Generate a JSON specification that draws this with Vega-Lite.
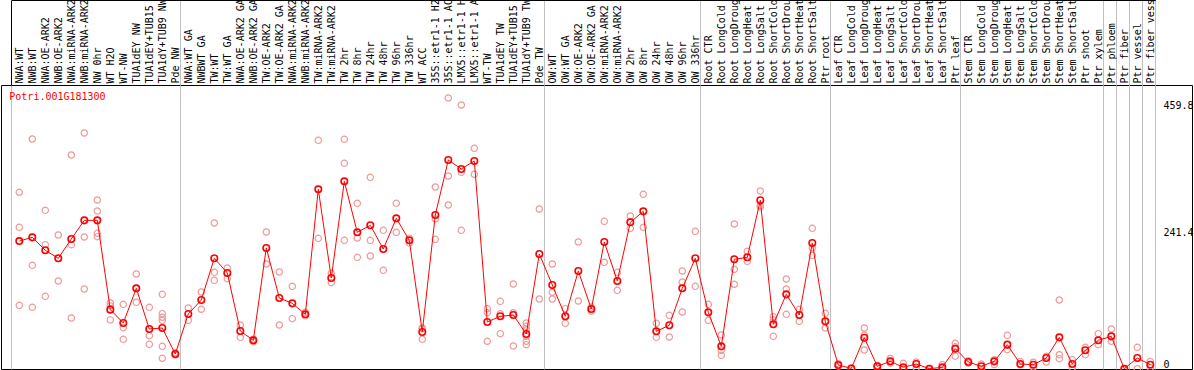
{
  "$schema": "https://vega.github.io/schema/vega-lite/v6.json",
  "width": 1191,
  "height": 284,
  "autosize": {"type": "none"},
  "padding": {"left": 1, "top": 85, "right": 2, "bottom": 1},
  "background": "white",
  "config": {"view": {"stroke": "black", "strokeWidth": 1}, "font": "DejaVu Sans Mono"},
  "datasets": {
    "means": [
      {"sample": "NWA:WT", "value": 219},
      {"sample": "NWB:WT", "value": 225.4},
      {"sample": "NWA:OE-ARK2", "value": 203.2},
      {"sample": "NWB:OE-ARK2", "value": 189.5},
      {"sample": "NWA:miRNA-ARK2", "value": 222.6},
      {"sample": "NWB:miRNA-ARK2", "value": 254.5},
      {"sample": "NW 0hr", "value": 254.5},
      {"sample": "WT H2O", "value": 101.6},
      {"sample": "WT-NW", "value": 78.8},
      {"sample": "TUA1dEY NW", "value": 138.1},
      {"sample": "TUA1dEY+TUB15 NW", "value": 68.5},
      {"sample": "TUA1dY+TUB9 NW", "value": 70.2},
      {"sample": "Pde NW", "value": 25.7},
      {"sample": "NWA:WT GA", "value": 94.2},
      {"sample": "NWBWT GA", "value": 118.1},
      {"sample": "TW:WT", "value": 189.5},
      {"sample": "TW:WT GA", "value": 164.4},
      {"sample": "NWA:OE-ARK2 GA", "value": 65.1},
      {"sample": "NWB:OE-ARK2 GA", "value": 49.1},
      {"sample": "TW:OE-ARK2", "value": 207.2},
      {"sample": "TW:OE-ARK2 GA", "value": 121.6},
      {"sample": "NWA:miRNA-ARK2 GA", "value": 112.4},
      {"sample": "NWB:miRNA-ARK2 GA", "value": 93.6},
      {"sample": "TW:miRNA-ARK2", "value": 307.6},
      {"sample": "TW:miRNA-ARK2 GA", "value": 155.8},
      {"sample": "TW 2hr", "value": 321.3},
      {"sample": "TW 8hr", "value": 234},
      {"sample": "TW 24hr", "value": 246},
      {"sample": "TW 48hr", "value": 205.4},
      {"sample": "TW 96hr", "value": 257.9},
      {"sample": "TW 336hr", "value": 220.3},
      {"sample": "WT ACC", "value": 63.3},
      {"sample": "35S::etr1-1 H2O", "value": 263.7},
      {"sample": "35S::etr1-1 ACC", "value": 357.8},
      {"sample": "LMX5::etr1-1 H2O", "value": 342.4},
      {"sample": "LMX5::etr1-1 ACC", "value": 356.1},
      {"sample": "WT-TW", "value": 80.5},
      {"sample": "TUA1dEY TW", "value": 90.2},
      {"sample": "TUA1dEY+TUB15 TW", "value": 92.4},
      {"sample": "TUA1dY+TUB9 TW", "value": 59.9},
      {"sample": "Pde TW", "value": 196.9},
      {"sample": "OW:WT", "value": 143.8},
      {"sample": "OW:WT GA", "value": 90.2},
      {"sample": "OW:OE-ARK2", "value": 167.8},
      {"sample": "OW:OE-ARK2 GA", "value": 102.7},
      {"sample": "OW:miRNA-ARK2", "value": 217.4},
      {"sample": "OW:miRNA-ARK2 GA", "value": 150.7},
      {"sample": "OW 2hr", "value": 251.1},
      {"sample": "OW 8hr", "value": 269.9},
      {"sample": "OW 24hr", "value": 64.5},
      {"sample": "OW 48hr", "value": 74.8},
      {"sample": "OW 96hr", "value": 138.1},
      {"sample": "OW 336hr", "value": 189.5},
      {"sample": "Root CTR", "value": 97},
      {"sample": "Root LongCold", "value": 38.8},
      {"sample": "Root LongDrought", "value": 187.8},
      {"sample": "Root LongHeat", "value": 191.2},
      {"sample": "Root LongSalt", "value": 288.8},
      {"sample": "Root ShortCold", "value": 76.5},
      {"sample": "Root ShortDrought", "value": 127.8},
      {"sample": "Root ShortHeat", "value": 92.4},
      {"sample": "Root ShortSalt", "value": 215.7},
      {"sample": "Ptr root", "value": 81.6},
      {"sample": "Leaf CTR", "value": 6.8},
      {"sample": "Leaf LongCold", "value": 1},
      {"sample": "Leaf LongDrought", "value": 53.6},
      {"sample": "Leaf LongHeat", "value": 4.6},
      {"sample": "Leaf LongSalt", "value": 13.1},
      {"sample": "Leaf ShortCold", "value": 2.9},
      {"sample": "Leaf ShortDrought", "value": 8.6},
      {"sample": "Leaf ShortHeat", "value": 0.5},
      {"sample": "Leaf ShortSalt", "value": 2.9},
      {"sample": "Ptr leaf", "value": 34.8},
      {"sample": "Stem CTR", "value": 12},
      {"sample": "Stem LongCold", "value": 4.6},
      {"sample": "Stem LongDrought", "value": 13.1},
      {"sample": "Stem LongHeat", "value": 41.7},
      {"sample": "Stem LongSalt", "value": 8.6},
      {"sample": "Stem ShortCold", "value": 7.4},
      {"sample": "Stem ShortDrought", "value": 18.8},
      {"sample": "Stem ShortHeat", "value": 54.2},
      {"sample": "Stem ShortSalt", "value": 8.6},
      {"sample": "Ptr shoot", "value": 32},
      {"sample": "Ptr xylem", "value": 49.1},
      {"sample": "Ptr phloem", "value": 55.9},
      {"sample": "Ptr fiber", "value": 0.3},
      {"sample": "Ptr vessel", "value": 18.8},
      {"sample": "Ptr fiber vessel", "value": 7.4}
    ],
    "reps": [
      {"sample": "NWA:WT", "value": 302.5}, {"sample": "NWA:WT", "value": 242.5}, {"sample": "NWA:WT", "value": 109},
      {"sample": "NWB:WT", "value": 393.8}, {"sample": "NWB:WT", "value": 177.5}, {"sample": "NWB:WT", "value": 105.6},
      {"sample": "NWA:OE-ARK2", "value": 271.6}, {"sample": "NWA:OE-ARK2", "value": 212.9}, {"sample": "NWA:OE-ARK2", "value": 124.4},
      {"sample": "NWB:OE-ARK2", "value": 229.4}, {"sample": "NWB:OE-ARK2", "value": 150.7}, {"sample": "NWB:OE-ARK2", "value": 189},
      {"sample": "NWA:miRNA-ARK2", "value": 366.4}, {"sample": "NWA:miRNA-ARK2", "value": 212.9}, {"sample": "NWA:miRNA-ARK2", "value": 87.3},
      {"sample": "NWB:miRNA-ARK2", "value": 404}, {"sample": "NWB:miRNA-ARK2", "value": 226}, {"sample": "NWB:miRNA-ARK2", "value": 137},
      {"sample": "NW 0hr", "value": 289.3}, {"sample": "NW 0hr", "value": 270.5}, {"sample": "NW 0hr", "value": 232.3}, {"sample": "NW 0hr", "value": 226.6},
      {"sample": "WT H2O", "value": 113}, {"sample": "WT H2O", "value": 108}, {"sample": "WT H2O", "value": 84},
      {"sample": "WT-NW", "value": 110.7}, {"sample": "WT-NW", "value": 70.8}, {"sample": "WT-NW", "value": 50.8},
      {"sample": "TUA1dEY NW", "value": 162.6}, {"sample": "TUA1dEY NW", "value": 114.1}, {"sample": "TUA1dEY NW", "value": 138},
      {"sample": "TUA1dEY+TUB15 NW", "value": 105.6}, {"sample": "TUA1dEY+TUB15 NW", "value": 57.1}, {"sample": "TUA1dEY+TUB15 NW", "value": 42.2},
      {"sample": "TUA1dY+TUB9 NW", "value": 127.8}, {"sample": "TUA1dY+TUB9 NW", "value": 94.7}, {"sample": "TUA1dY+TUB9 NW", "value": 88.5}, {"sample": "TUA1dY+TUB9 NW", "value": 83.3}, {"sample": "TUA1dY+TUB9 NW", "value": 38.8}, {"sample": "TUA1dY+TUB9 NW", "value": 18.3},
      {"sample": "Pde NW", "value": 24}, {"sample": "Pde NW", "value": 28},
      {"sample": "NWA:WT GA", "value": 104.4}, {"sample": "NWA:WT GA", "value": 83.3},
      {"sample": "NWBWT GA", "value": 131.8}, {"sample": "NWBWT GA", "value": 102.2},
      {"sample": "TW:WT", "value": 250}, {"sample": "TW:WT", "value": 165.5}, {"sample": "TW:WT", "value": 151.8},
      {"sample": "TW:WT GA", "value": 172.9}, {"sample": "TW:WT GA", "value": 154.7},
      {"sample": "NWA:OE-ARK2 GA", "value": 75.3}, {"sample": "NWA:OE-ARK2 GA", "value": 54.2},
      {"sample": "NWB:OE-ARK2 GA", "value": 51}, {"sample": "NWB:OE-ARK2 GA", "value": 47},
      {"sample": "TW:OE-ARK2", "value": 234.5}, {"sample": "TW:OE-ARK2", "value": 179.8},
      {"sample": "TW:OE-ARK2 GA", "value": 166.1}, {"sample": "TW:OE-ARK2 GA", "value": 75.3},
      {"sample": "NWA:miRNA-ARK2 GA", "value": 141.5}, {"sample": "NWA:miRNA-ARK2 GA", "value": 86.2},
      {"sample": "NWB:miRNA-ARK2 GA", "value": 97}, {"sample": "NWB:miRNA-ARK2 GA", "value": 91},
      {"sample": "TW:miRNA-ARK2", "value": 391.5}, {"sample": "TW:miRNA-ARK2", "value": 223.7},
      {"sample": "TW:miRNA-ARK2 GA", "value": 163.8}, {"sample": "TW:miRNA-ARK2 GA", "value": 147.8},
      {"sample": "TW 2hr", "value": 393.2}, {"sample": "TW 2hr", "value": 352.1}, {"sample": "TW 2hr", "value": 220.3},
      {"sample": "TW 8hr", "value": 283.6}, {"sample": "TW 8hr", "value": 224.3}, {"sample": "TW 8hr", "value": 191.2},
      {"sample": "TW 24hr", "value": 328.1}, {"sample": "TW 24hr", "value": 220.3}, {"sample": "TW 24hr", "value": 193.5},
      {"sample": "TW 48hr", "value": 237.4}, {"sample": "TW 48hr", "value": 168.9},
      {"sample": "TW 96hr", "value": 283.6}, {"sample": "TW 96hr", "value": 234},
      {"sample": "TW 336hr", "value": 224}, {"sample": "TW 336hr", "value": 216},
      {"sample": "WT ACC", "value": 70.2}, {"sample": "WT ACC", "value": 50.8}, {"sample": "WT ACC", "value": 69},
      {"sample": "35S::etr1-1 H2O", "value": 311.6}, {"sample": "35S::etr1-1 H2O", "value": 256.8}, {"sample": "35S::etr1-1 H2O", "value": 222},
      {"sample": "35S::etr1-1 ACC", "value": 464}, {"sample": "35S::etr1-1 ACC", "value": 330.4}, {"sample": "35S::etr1-1 ACC", "value": 280.8},
      {"sample": "LMX5::etr1-1 H2O", "value": 452}, {"sample": "LMX5::etr1-1 H2O", "value": 336.7}, {"sample": "LMX5::etr1-1 H2O", "value": 237.4},
      {"sample": "LMX5::etr1-1 ACC", "value": 377.8}, {"sample": "LMX5::etr1-1 ACC", "value": 333.3},
      {"sample": "WT-TW", "value": 103.3}, {"sample": "WT-TW", "value": 96.4}, {"sample": "WT-TW", "value": 47.4},
      {"sample": "TUA1dEY TW", "value": 115.8}, {"sample": "TUA1dEY TW", "value": 94.7}, {"sample": "TUA1dEY TW", "value": 60.5},
      {"sample": "TUA1dEY+TUB15 TW", "value": 145.5}, {"sample": "TUA1dEY+TUB15 TW", "value": 96.4}, {"sample": "TUA1dEY+TUB15 TW", "value": 39.4},
      {"sample": "TUA1dY+TUB9 TW", "value": 78.8}, {"sample": "TUA1dY+TUB9 TW", "value": 73}, {"sample": "TUA1dY+TUB9 TW", "value": 67.3}, {"sample": "TUA1dY+TUB9 TW", "value": 55.9}, {"sample": "TUA1dY+TUB9 TW", "value": 47.4}, {"sample": "TUA1dY+TUB9 TW", "value": 41.7},
      {"sample": "Pde TW", "value": 273.9}, {"sample": "Pde TW", "value": 119.8},
      {"sample": "OW:WT", "value": 179.8}, {"sample": "OW:WT", "value": 131.3}, {"sample": "OW:WT", "value": 119.8},
      {"sample": "OW:WT GA", "value": 103.3}, {"sample": "OW:WT GA", "value": 78.2},
      {"sample": "OW:OE-ARK2", "value": 217.4}, {"sample": "OW:OE-ARK2", "value": 116.4},
      {"sample": "OW:OE-ARK2 GA", "value": 106}, {"sample": "OW:OE-ARK2 GA", "value": 99},
      {"sample": "OW:miRNA-ARK2", "value": 252.8}, {"sample": "OW:miRNA-ARK2", "value": 182.6},
      {"sample": "OW:miRNA-ARK2 GA", "value": 165.5}, {"sample": "OW:miRNA-ARK2 GA", "value": 134.7},
      {"sample": "OW 2hr", "value": 261.9}, {"sample": "OW 2hr", "value": 240.8},
      {"sample": "OW 8hr", "value": 299}, {"sample": "OW 8hr", "value": 242.5},
      {"sample": "OW 24hr", "value": 78.2}, {"sample": "OW 24hr", "value": 54.2},
      {"sample": "OW 48hr", "value": 91.9}, {"sample": "OW 48hr", "value": 54.8},
      {"sample": "OW 96hr", "value": 167.8}, {"sample": "OW 96hr", "value": 148.9}, {"sample": "OW 96hr", "value": 97.6},
      {"sample": "OW 336hr", "value": 235.7}, {"sample": "OW 336hr", "value": 141.5},
      {"sample": "Root CTR", "value": 110.7}, {"sample": "Root CTR", "value": 83.3},
      {"sample": "Root LongCold", "value": 58.2}, {"sample": "Root LongCold", "value": 32}, {"sample": "Root LongCold", "value": 23.4},
      {"sample": "Root LongDrought", "value": 248.2}, {"sample": "Root LongDrought", "value": 170.6}, {"sample": "Root LongDrought", "value": 145},
      {"sample": "Root LongHeat", "value": 201.4}, {"sample": "Root LongHeat", "value": 184.3},
      {"sample": "Root LongSalt", "value": 304.7}, {"sample": "Root LongSalt", "value": 280.2}, {"sample": "Root LongSalt", "value": 277.4},
      {"sample": "Root ShortCold", "value": 89.6}, {"sample": "Root ShortCold", "value": 55.9}, {"sample": "Root ShortCold", "value": 84},
      {"sample": "Root ShortDrought", "value": 154.1}, {"sample": "Root ShortDrought", "value": 137}, {"sample": "Root ShortDrought", "value": 93.6},
      {"sample": "Root ShortHeat", "value": 102.2}, {"sample": "Root ShortHeat", "value": 81.6},
      {"sample": "Root ShortSalt", "value": 240.8}, {"sample": "Root ShortSalt", "value": 207.2}, {"sample": "Root ShortSalt", "value": 194.6},
      {"sample": "Ptr root", "value": 95.3}, {"sample": "Ptr root", "value": 70.2},
      {"sample": "Leaf CTR", "value": 5}, {"sample": "Leaf CTR", "value": 9},
      {"sample": "Leaf LongCold", "value": 0.5}, {"sample": "Leaf LongCold", "value": 1.5},
      {"sample": "Leaf LongDrought", "value": 70.2}, {"sample": "Leaf LongDrought", "value": 32.5}, {"sample": "Leaf LongDrought", "value": 58},
      {"sample": "Leaf LongHeat", "value": 6}, {"sample": "Leaf LongHeat", "value": 3},
      {"sample": "Leaf LongSalt", "value": 18}, {"sample": "Leaf LongSalt", "value": 10},
      {"sample": "Leaf ShortCold", "value": 9.7}, {"sample": "Leaf ShortCold", "value": 0.5},
      {"sample": "Leaf ShortDrought", "value": 12}, {"sample": "Leaf ShortDrought", "value": 2},
      {"sample": "Leaf ShortHeat", "value": 0.5}, {"sample": "Leaf ShortHeat", "value": 0.5},
      {"sample": "Leaf ShortSalt", "value": 7.4}, {"sample": "Leaf ShortSalt", "value": 1},
      {"sample": "Ptr leaf", "value": 44}, {"sample": "Ptr leaf", "value": 22}, {"sample": "Ptr leaf", "value": 38},
      {"sample": "Stem CTR", "value": 14}, {"sample": "Stem CTR", "value": 10},
      {"sample": "Stem LongCold", "value": 8.6}, {"sample": "Stem LongCold", "value": 1},
      {"sample": "Stem LongDrought", "value": 16}, {"sample": "Stem LongDrought", "value": 7.4},
      {"sample": "Stem LongHeat", "value": 57.6}, {"sample": "Stem LongHeat", "value": 33.1},
      {"sample": "Stem LongSalt", "value": 13}, {"sample": "Stem LongSalt", "value": 7},
      {"sample": "Stem ShortCold", "value": 11.5}, {"sample": "Stem ShortCold", "value": 3},
      {"sample": "Stem ShortDrought", "value": 21.7}, {"sample": "Stem ShortDrought", "value": 12},
      {"sample": "Stem ShortHeat", "value": 118.1}, {"sample": "Stem ShortHeat", "value": 24.5}, {"sample": "Stem ShortHeat", "value": 17.7},
      {"sample": "Stem ShortSalt", "value": 16}, {"sample": "Stem ShortSalt", "value": 2},
      {"sample": "Ptr shoot", "value": 37.1}, {"sample": "Ptr shoot", "value": 24.5},
      {"sample": "Ptr xylem", "value": 60.5}, {"sample": "Ptr xylem", "value": 41.7},
      {"sample": "Ptr phloem", "value": 68.5}, {"sample": "Ptr phloem", "value": 47.4},
      {"sample": "Ptr fiber", "value": 0.2}, {"sample": "Ptr fiber", "value": 0.4},
      {"sample": "Ptr vessel", "value": 37.1}, {"sample": "Ptr vessel", "value": 0.5},
      {"sample": "Ptr fiber vessel", "value": 13}, {"sample": "Ptr fiber vessel", "value": 2}
    ],
    "gene": [{"name": "Potri.001G181300"}]
  },
  "layer": [
    {
      "mark": {"type": "rule", "color": "#c0c0c0", "strokeWidth": 1},
      "encoding": {"y": {"datum": 241.4, "type": "quantitative"}}
    },
    {
      "data": {"name": "reps"},
      "mark": {"type": "point", "shape": "circle", "filled": false, "stroke": "#f09898", "strokeWidth": 1.2, "size": 40, "opacity": 1, "xOffset": 1.5},
      "encoding": {
        "x": {
          "field": "sample", "type": "nominal", "sort": null,
          "scale": {
            "type": "band", "paddingInner": 0, "paddingOuter": 0, "range": [10.3, 1154.3],
            "domain": ["NWA:WT","NWB:WT","NWA:OE-ARK2","NWB:OE-ARK2","NWA:miRNA-ARK2","NWB:miRNA-ARK2","NW 0hr","WT H2O","WT-NW","TUA1dEY NW","TUA1dEY+TUB15 NW","TUA1dY+TUB9 NW","Pde NW","NWA:WT GA","NWBWT GA","TW:WT","TW:WT GA","NWA:OE-ARK2 GA","NWB:OE-ARK2 GA","TW:OE-ARK2","TW:OE-ARK2 GA","NWA:miRNA-ARK2 GA","NWB:miRNA-ARK2 GA","TW:miRNA-ARK2","TW:miRNA-ARK2 GA","TW 2hr","TW 8hr","TW 24hr","TW 48hr","TW 96hr","TW 336hr","WT ACC","35S::etr1-1 H2O","35S::etr1-1 ACC","LMX5::etr1-1 H2O","LMX5::etr1-1 ACC","WT-TW","TUA1dEY TW","TUA1dEY+TUB15 TW","TUA1dY+TUB9 TW","Pde TW","OW:WT","OW:WT GA","OW:OE-ARK2","OW:OE-ARK2 GA","OW:miRNA-ARK2","OW:miRNA-ARK2 GA","OW 2hr","OW 8hr","OW 24hr","OW 48hr","OW 96hr","OW 336hr","Root CTR","Root LongCold","Root LongDrought","Root LongHeat","Root LongSalt","Root ShortCold","Root ShortDrought","Root ShortHeat","Root ShortSalt","Ptr root","Leaf CTR","Leaf LongCold","Leaf LongDrought","Leaf LongHeat","Leaf LongSalt","Leaf ShortCold","Leaf ShortDrought","Leaf ShortHeat","Leaf ShortSalt","Ptr leaf","Stem CTR","Stem LongCold","Stem LongDrought","Stem LongHeat","Stem LongSalt","Stem ShortCold","Stem ShortDrought","Stem ShortHeat","Stem ShortSalt","Ptr shoot","Ptr xylem","Ptr phloem","Ptr fiber","Ptr vessel","Ptr fiber vessel"]
          },
          "axis": {
            "orient": "top", "title": null, "offset": 85,
            "domain": true, "domainColor": "black", "domainWidth": 1,
            "labelAngle": -90, "labelAlign": "left", "labelBaseline": "middle",
            "labelFont": "DejaVu Sans Mono", "labelFontSize": 10, "labelColor": "black",
            "labelPadding": 2, "labelOffset": 2, "labelOverlap": false, "labelBound": false, "labelLimit": 400,
            "labelExpr": "substring(datum.label, 0, 14)",
            "tickBand": "extent", "ticks": true, "tickSize": -85, "tickWidth": 1,
            "tickColor": {"condition": {"test": "datum.extra", "value": "black"}, "value": "#c0c0c0"},
            "tickOpacity": {"condition": {"test": "datum.extra || indexof(['Pde NW','Pde TW','OW 336hr','Ptr root','Ptr leaf','Ptr xylem','Ptr phloem','Ptr fiber','Ptr vessel','Ptr fiber vessel'], datum.value) >= 0", "value": 1}, "value": 0},
            "grid": true, "gridColor": "#c0c0c0", "gridWidth": 1,
            "gridOpacity": {"condition": {"test": "datum.extra || indexof(['Pde NW','Pde TW','OW 336hr','Ptr root','Ptr leaf','Ptr xylem','Ptr phloem','Ptr fiber','Ptr vessel','Ptr fiber vessel'], datum.value) >= 0", "value": 1}, "value": 0}
          }
        },
        "y": {
          "field": "value", "type": "quantitative",
          "scale": {"domain": [0, 486.2], "nice": false, "zero": true},
          "axis": {
            "orient": "right", "offset": -31, "title": null, "values": [0, 241.4, 459.8],
            "labelExpr": "datum.value + ''", "domain": false, "ticks": false, "grid": false,
            "labelPadding": 2, "labelAlign": "left", "labelFlush": false,
            "labelFont": "DejaVu Sans Mono", "labelFontSize": 10, "labelColor": "black",
            "labelBaseline": {"condition": {"test": "datum.value === 0", "value": "bottom"}, "value": "top"}
          }
        }
      }
    },
    {
      "data": {"name": "means"},
      "mark": {"type": "line", "color": "#ff0000", "strokeWidth": 1, "xOffset": 1.5},
      "encoding": {
        "x": {"field": "sample", "type": "nominal", "sort": null},
        "y": {"field": "value", "type": "quantitative"}
      }
    },
    {
      "data": {"name": "means"},
      "mark": {"type": "point", "shape": "circle", "filled": false, "stroke": "#ff0000", "strokeWidth": 1.6, "size": 42, "opacity": 1, "xOffset": 1.5},
      "encoding": {
        "x": {"field": "sample", "type": "nominal", "sort": null},
        "y": {"field": "value", "type": "quantitative"}
      }
    },
    {
      "data": {"name": "gene"},
      "mark": {"type": "text", "align": "left", "baseline": "top", "color": "#ff0000", "font": "DejaVu Sans Mono", "fontSize": 10, "dx": -2, "dy": 7},
      "encoding": {
        "text": {"field": "name", "type": "nominal"},
        "x": {"datum": "NWA:WT", "type": "nominal", "bandPosition": 0},
        "y": {"datum": 486.2, "type": "quantitative"}
      }
    }
  ]
}
